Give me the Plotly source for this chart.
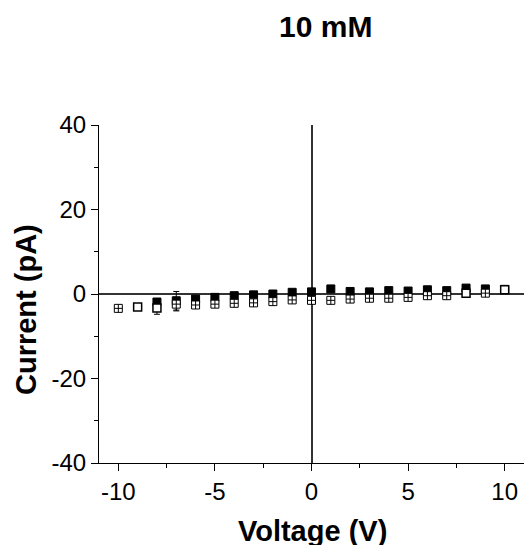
import plotly.graph_objects as go

voltage = list(range(-10, 11))
current_filled = [None, None, -1.9, -1.6, -1.2, -0.8, -0.4, -0.2, 0.0, 0.4, 0.5,
                  1.2, 0.6, 0.5, 0.8, 0.7, 1.0, 0.8, 1.4, 1.2, 1.1]
current_cross = [-3.4, None, None, -2.4, -2.6, -2.4, -2.2, -2.1, -1.8, -1.4, -1.5,
                 -1.5, -1.2, -1.0, -1.0, -0.8, -0.4, -0.4, None, 0.2, None]
current_open = [None, -3.1, -3.3, None, None, None, None, None, None, None, None,
                None, None, None, None, None, None, None, 0.2, None, 1.0]
err_filled = [0]*21
err_filled[3] = 2.2
err_cross = [0]*21
err_cross[3] = 1.6
err_open = [0]*21
err_open[2] = 1.5

x_ticks = [-10, -5, 0, 5, 10]
x_tick_text = ["-10", "-5", "0", "5", "10"]
y_ticks = [-40, -20, 0, 20, 40]
y_tick_text = ["-40", "-20", "0", "20", "40"]

font = "Liberation Sans, Arial, sans-serif"

fig = go.Figure()
fig.add_trace(go.Scatter(x=voltage, y=current_filled, mode="markers",
                         marker=dict(symbol="square", size=8, color="black",
                                     line=dict(color="black", width=1)),
                         error_y=dict(type="data", array=err_filled, color="black",
                                      thickness=1, width=3),
                         showlegend=False))
fig.add_trace(go.Scatter(x=voltage, y=current_cross, mode="markers",
                         marker=dict(symbol="square-cross", size=8, color="white",
                                     line=dict(color="black", width=1)),
                         error_y=dict(type="data", array=err_cross, color="black",
                                      thickness=1, width=3),
                         showlegend=False))
fig.add_trace(go.Scatter(x=voltage, y=current_open, mode="markers",
                         marker=dict(symbol="square", size=8, color="white",
                                     line=dict(color="black", width=1.5)),
                         error_y=dict(type="data", array=err_open, color="black",
                                      thickness=1, width=3),
                         showlegend=False))

fig.update_layout(
    width=524, height=545,
    margin=dict(l=99, r=0, t=125, b=82, autoexpand=False),
    paper_bgcolor="white", plot_bgcolor="white",
    font=dict(family=font, size=24, color="black"),
    xaxis=dict(range=[-11, 11], tickvals=x_ticks, ticktext=x_tick_text,
               ticks="outside", ticklen=7, tickwidth=1, tickcolor="black",
               minor=dict(tickvals=[-7.5, -2.5, 2.5, 7.5], ticks="outside",
                          ticklen=4, tickwidth=1, tickcolor="black"),
               showline=True, linecolor="black", linewidth=1,
               showgrid=False, zeroline=True, zerolinecolor="#333333", zerolinewidth=1.5,
               automargin=False, tickfont=dict(size=24)),
    yaxis=dict(range=[-40, 40], tickvals=y_ticks, ticktext=y_tick_text,
               ticks="outside", ticklen=7, tickwidth=1, tickcolor="black",
               minor=dict(tickvals=[-30, -10, 10, 30], ticks="outside",
                          ticklen=4, tickwidth=1, tickcolor="black"),
               showline=True, linecolor="black", linewidth=1,
               showgrid=False, zeroline=True, zerolinecolor="#333333", zerolinewidth=1.5,
               automargin=False, tickfont=dict(size=24)),
    annotations=[
        dict(text="<b>10 mM</b>", xref="paper", yref="paper", x=0.532, y=1,
             xanchor="center", yanchor="middle", yshift=125 - 26, showarrow=False,
             font=dict(family=font, size=30)),
        dict(text="<b>Voltage (V)</b>", xref="paper", yref="paper", x=0.502, y=0,
             xanchor="center", yanchor="middle", yshift=-(531 - 463), showarrow=False,
             font=dict(family=font, size=29)),
        dict(text="<b>Current (pA)</b>", xref="paper", yref="paper", x=0, y=0.5,
             xanchor="center", yanchor="middle", xshift=-(99 - 26), yshift=-16,
             textangle=-90, showarrow=False, font=dict(family=font, size=29)),
    ],
)

fig.write_html("out.html", config={"displayModeBar": False},
               post_script="document.body.style.margin='0px';document.body.style.overflow='hidden';")
